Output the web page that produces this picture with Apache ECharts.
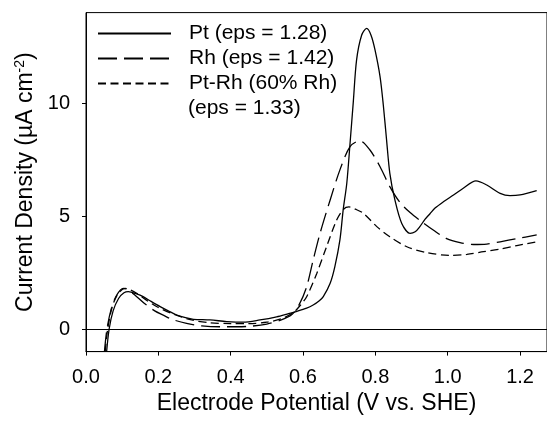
<!DOCTYPE html>
<html>
<head>
<meta charset="utf-8">
<script src="https://cdn.jsdelivr.net/npm/echarts@6/dist/echarts.min.js"></script>
<style>html,body{margin:0;padding:0;background:#fff}#c{width:547px;height:421px}</style>
</head>
<body>
<div id="c"></div>
<script>
// Data: [potential (V vs. SHE), current density (µA cm^-2)]
const ptData = [[0.057,-1.0],[0.064,0],[0.075,0.8],[0.09,1.35],[0.105,1.6],[0.117,1.65],[0.14,1.55],[0.158,1.43],[0.18,1.22],[0.205,0.99],[0.23,0.78],[0.251,0.62],[0.275,0.5],[0.297,0.43],[0.343,0.40],[0.389,0.33],[0.435,0.30],[0.481,0.40],[0.527,0.54],[0.56,0.68],[0.583,0.78],[0.61,0.92],[0.628,1.06],[0.645,1.25],[0.656,1.43],[0.675,2.02],[0.688,2.76],[0.702,3.94],[0.711,5.27],[0.721,6.45],[0.730,8.22],[0.739,10.05],[0.748,11.9],[0.762,13.0],[0.776,13.3],[0.788,13.0],[0.799,12.35],[0.813,11.16],[0.822,9.9],[0.831,8.36],[0.840,6.89],[0.854,5.71],[0.873,4.67],[0.896,4.23],[0.910,4.3],[0.923,4.53],[0.937,4.85],[0.951,5.1],[0.965,5.35],[0.988,5.63],[1.016,5.93],[1.043,6.23],[1.078,6.55],[1.108,6.37],[1.145,6.00],[1.172,5.90],[1.200,5.93],[1.246,6.12]];
const rhData = [[0.051,-1.0],[0.058,0],[0.07,0.9],[0.085,1.5],[0.103,1.8],[0.115,1.75],[0.135,1.5],[0.16,1.15],[0.19,0.8],[0.215,0.6],[0.237,0.43],[0.278,0.25],[0.32,0.14],[0.37,0.10],[0.42,0.10],[0.46,0.13],[0.50,0.22],[0.54,0.40],[0.57,0.65],[0.59,1.1],[0.61,1.87],[0.628,3.05],[0.647,4.23],[0.675,5.71],[0.702,7.04],[0.730,8.07],[0.757,8.33],[0.785,7.92],[0.813,7.18],[0.840,6.30],[0.868,5.6],[0.896,5.15],[0.928,4.75],[0.960,4.38],[0.997,4.00],[1.034,3.82],[1.071,3.74],[1.108,3.76],[1.145,3.86],[1.191,4.00],[1.246,4.16]];
const ptrhData = [[0.053,-1.0],[0.06,0],[0.072,0.95],[0.088,1.55],[0.108,1.8],[0.12,1.75],[0.14,1.58],[0.165,1.3],[0.20,0.95],[0.237,0.69],[0.292,0.40],[0.34,0.28],[0.40,0.24],[0.45,0.24],[0.50,0.3],[0.54,0.45],[0.575,0.75],[0.595,1.1],[0.610,1.43],[0.638,2.46],[0.665,3.64],[0.693,4.82],[0.712,5.3],[0.727,5.4],[0.745,5.3],[0.767,5.12],[0.804,4.53],[0.840,4.08],[0.887,3.64],[0.942,3.38],[1.006,3.26],[1.053,3.30],[1.099,3.42],[1.145,3.54],[1.191,3.69],[1.246,3.86]];
const seriesNames = ['Pt (eps = 1.28)', 'Rh (eps = 1.42)', 'Pt-Rh (60% Rh)'];
const extraLegendLine = '(eps = 1.33)';
const xTicks = [0, 0.2, 0.4, 0.6, 0.8, 1.0, 1.2];
const yTicks = [0, 5, 10];

const FONT = 'Liberation Sans, Arial, sans-serif';
const INK = '#000';
const chart = echarts.init(document.getElementById('c'), null, {renderer: 'canvas'});
function lineSeries(name, data, type) {
  return {
    name, type: 'line', data, smooth: 0.3, symbol: 'none', clip: true,
    lineStyle: {color: INK, width: 1.3, type: type},
    itemStyle: {color: INK},
    emphasis: {disabled: true}, animation: false
  };
}
const s0 = lineSeries(seriesNames[0], ptData, 'solid');
s0.markLine = {
  silent: true, symbol: 'none', label: {show: false},
  lineStyle: {color: INK, width: 1, type: 'solid'},
  data: [{yAxis: 0}], animation: false
};
chart.setOption({
  animation: false,
  grid: {left: 86, top: 12.6, width: 461, height: 339, show: true, borderColor: INK, borderWidth: 1},
  legend: {
    orient: 'vertical', left: 97, top: 23, padding: 0, itemWidth: 73, itemHeight: 14, itemGap: 4,
    itemStyle: {color: 'transparent', borderColor: 'transparent', borderWidth: 0, opacity: 0},
    textStyle: {fontFamily: FONT, fontSize: 21, color: INK, padding: [0, 0, 0, 13]},
    data: seriesNames, selectedMode: false
  },
  graphic: [{
    type: 'text', left: 188, top: 98,
    style: {text: extraLegendLine, font: '21px ' + FONT, fill: INK}
  }],
  xAxis: {
    type: 'value', min: 0, max: 1.2745,
    name: 'Electrode Potential (V vs. SHE)', nameLocation: 'middle', nameGap: 39,
    nameTextStyle: {fontFamily: FONT, fontSize: 23, color: INK},
    axisLine: {show: true, onZero: false, lineStyle: {color: INK, width: 1}},
    axisTick: {show: true, length: 4, customValues: xTicks, lineStyle: {color: INK}},
    axisLabel: {customValues: xTicks, margin: 16, fontFamily: FONT, fontSize: 20, color: INK,
      formatter: v => v.toFixed(1)},
    splitLine: {show: false}
  },
  yAxis: {
    type: 'value', min: -1, max: 14,
    name: 'Current Density (µA cm{sup|-2})', nameLocation: 'middle', nameGap: 48, nameRotate: 90,
    nameTextStyle: {fontFamily: FONT, fontSize: 23, color: INK,
      rich: {sup: {fontFamily: FONT, fontSize: 14, color: INK, verticalAlign: 'top', padding: [0, 0, 10, 0]}}},
    axisLine: {show: true, onZero: false, lineStyle: {color: INK, width: 1}},
    axisTick: {show: true, length: 4, customValues: yTicks, lineStyle: {color: INK}},
    axisLabel: {customValues: yTicks, margin: 16, fontFamily: FONT, fontSize: 20, color: INK},
    splitLine: {show: false}
  },
  series: [
    s0,
    lineSeries(seriesNames[1], rhData, [19, 7]),
    lineSeries(seriesNames[2], ptrhData, [8, 4.5])
  ]
});
</script>
</body>
</html>
